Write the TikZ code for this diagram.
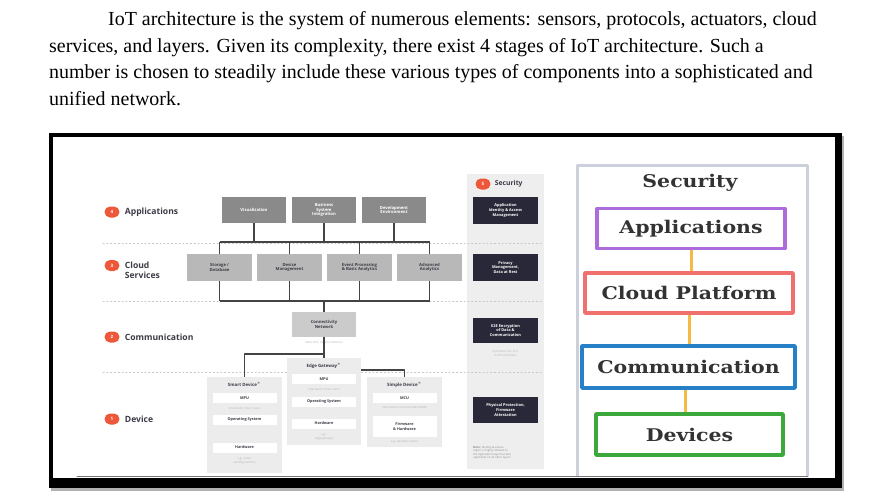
\documentclass[tikz,border=0pt]{standalone}
\usepackage{graphicx}
\usepackage{fontspec}
\setmainfont{Liberation Serif}
\newfontfamily\diagfont{Open Sans}
\newfontfamily\slabfont{DejaVu Serif}
\usetikzlibrary{positioning}

\definecolor{appgray}{RGB}{138,138,138}
\definecolor{cloudgray}{RGB}{184,184,184}
\definecolor{netgray}{RGB}{203,203,203}
\definecolor{devgray}{RGB}{236,236,236}
\definecolor{secgray}{RGB}{238,238,238}
\definecolor{secdark}{RGB}{40,40,56}
\definecolor{numred}{RGB}{238,88,58}
\definecolor{busgray}{RGB}{68,68,68}
\definecolor{labelgray}{RGB}{60,60,70}
\definecolor{appviolet}{RGB}{172,108,220}
\definecolor{cloudsalmon}{RGB}{240,112,110}
\definecolor{commblue}{RGB}{38,128,200}
\definecolor{devgreen}{RGB}{58,168,58}
\definecolor{linkorange}{RGB}{245,185,70}
\definecolor{framegray}{RGB}{204,208,218}

\newcommand\wide[1]{\scalebox{1.17}[1]{#1}}

\begin{document}
\begin{tikzpicture}[x=1pt, y=-1pt, line join=round, line cap=round, font=\diagfont,
	para/.style={font=\fontsize{19.95}{23}\selectfont\rmfamily, inner sep=0, anchor=base west},
	appbox/.style={fill=appgray, text=white, minimum width=64, minimum height=26, inner sep=1pt, align=center, font=\diagfont\bfseries\fontsize{4.2}{4.8}\selectfont},
	cloudbox/.style={fill=cloudgray, text=labelgray, minimum width=65, minimum height=27, inner sep=1pt, align=center, font=\diagfont\bfseries\fontsize{4.2}{4.8}\selectfont},
	devbox/.style={fill=devgray, minimum width=75, inner sep=0},
	whitebox/.style={fill=white, text=labelgray, minimum width=64, minimum height=10, inner sep=0, align=center, font=\diagfont\bfseries\fontsize{3.8}{4.4}\selectfont},
	devtitle/.style={text=labelgray, inner sep=0, font=\diagfont\bfseries\fontsize{4.4}{5}\selectfont},
	tinytext/.style={text=black!30, inner sep=0, align=center, font=\diagfont\fontsize{2.8}{3.4}\selectfont},
	secbox/.style={fill=secdark, text=white, minimum width=65, minimum height=27, inner sep=1pt, align=center, font=\diagfont\bfseries\fontsize{3.9}{4.6}\selectfont},
	numdot/.style={fill=numred, text=white, rounded corners=5.5pt, minimum width=15, minimum height=11, inner sep=0, font=\diagfont\bfseries\fontsize{4.5}{5}\selectfont},
	layer/.style={text=labelgray, inner sep=0, align=left, font=\diagfont\bfseries\fontsize{8.6}{9.4}\selectfont},
	bus/.style={draw=busgray, line width=1.4pt, line cap=butt},
	sep/.style={draw=black!22, line width=0.9pt, dash pattern=on 1.2pt off 2.6pt},
	stage/.style={fill=white, line width=3.6pt, minimum height=40, inner sep=0, font=\slabfont\bfseries\fontsize{17.5}{20}\selectfont, text=black!80},
	link/.style={draw=linkorange, line width=3pt, line cap=butt}]
	\useasboundingbox (0,0) rectangle (878,498);
	\fill[white] (0,0) rectangle (878,498);

	% [Paragraph]
	\node[para] (p1) at (108,25) {IoT architecture is the system of numerous elements: sensors, protocols, actuators, cloud};
	\node[para] (p2) at (49,52) {services, and layers. Given its complexity, there exist 4 stages of IoT architecture. Such a};
	\node[para] (p3) at (49,78.5) {number is chosen to steadily include these various types of components into a sophisticated and};
	\node[para] (p4) at (49,105) {unified network.};

	% [Frame of the picture]
	\fill[black!30] (51,136) rectangle (844,491);
	\fill[black] (49,133) rectangle (842,488);
	\fill[white] (53,137) rectangle (835,478);
	\draw[black!55, line width=0.8pt] (77,476.5) -- (808,476.5);

	% [Security column]
	\node[fill=secgray, minimum width=77, minimum height=295, inner sep=0] (secol) at (505.5,321.5) {};

	% [Layer separators]
	\foreach \y in {243,301,372}
		\draw[sep] (103,\y) -- (543,\y);

	% [Layer labels]
	\node[numdot] (n4) at (112,212) {4};
	\node[layer, right=5pt of n4] (l4) {Applications};
	\node[numdot] (n3) at (112,265.5) {3};
	\node[layer, right=5pt of n3, yshift=-4.6pt] (l3) {Cloud\\Services};
	\node[numdot] (n2) at (112,337) {2};
	\node[layer, right=5pt of n2] (l2) {Communication};
	\node[numdot] (n1) at (112,419) {1};
	\node[layer, right=5pt of n1] (l1) {Device};

	% [Applications]
	\node[appbox] (vis) at (254,210) {Visualization};
	\node[appbox] (bsi) at (324,210) {Business\\System\\Integration};
	\node[appbox] (env) at (394,210) {Development\\Environment};

	% [Cloud services]
	\node[cloudbox] (sto) at (219.5,267.5) {Storage /\\Database};
	\node[cloudbox] (dev) at (289.5,267.5) {Device\\Management};
	\node[cloudbox] (evt) at (359.5,267.5) {Event Processing\\\& Basic Analytics};
	\node[cloudbox] (adv) at (429.5,267.5) {Advanced\\Analytics};

	% [Communication]
	\node[cloudbox, fill=netgray, minimum height=25, minimum width=64] (con) at (324,324.5) {Connectivity\\Network};
	\node[tinytext] (cont) at (324,343) {WAN, WiFi, Cellular, Ethernet};

	% [Devices]
	\node[devbox, minimum height=96] (smart) at (244.5,425) {};
	\node[devtitle] (smartt) at (244.5,384) {Smart Device$^{*}$};
	\node[whitebox] (smpu) at (244.5,398) {MPU};
	\node[tinytext] (smput) at (244.5,408) {Intel Atom / Core / Xeon};
	\node[whitebox] (sos) at (244.5,420) {Operating System};
	\node[whitebox] (shw) at (244.5,447.5) {Hardware};
	\node[tinytext] (shwt) at (244.5,461) {e.g., smart\\vending machine};

	\node[devbox, minimum width=74, minimum height=87] (edge) at (324,401.5) {};
	\node[devtitle] (edget) at (324,366) {Edge Gateway$^{*}$};
	\node[whitebox] (empu) at (324,379) {MPU};
	\node[tinytext] (emput) at (324,389) {Intel Atom / Core / Xeon};
	\node[whitebox] (eos) at (324,402) {Operating System};
	\node[whitebox] (ehw) at (324,423.5) {Hardware};
	\node[tinytext] (ehwt) at (324,437) {e.g.,\\edge gateway};

	\node[devbox, minimum height=70] (simple) at (404.5,412) {};
	\node[devtitle] (simplet) at (404.5,385) {Simple Device$^{*}$};
	\node[whitebox] (smcu) at (404.5,398) {MCU};
	\node[tinytext] (smcut) at (404.5,408) {Intel Quark microcontroller D2000};
	\node[whitebox, minimum height=21] (sfw) at (404.5,426.5) {Firmware\\\& Hardware};
	\node[tinytext] (sfwt) at (404.5,442) {e.g., wearable sensor};

	% [Buses]
	\coordinate (busA) at (0,242);
	\coordinate (busB) at (0,301);
	\coordinate (busC) at (0,354);
	\coordinate (busD) at (0,370);
	\foreach \n in {vis,bsi,env}
		\draw[bus] (\n) -- (\n |- busA);
	\draw[bus] (sto |- busA) -- (adv |- busA);
	\foreach \n in {sto,dev,evt,adv}{
		\draw[bus] (\n |- busA) -- (\n);
		\draw[bus] (\n) -- (\n |- busB);
	}
	\draw[bus] (sto |- busB) -- (adv |- busB);
	\draw[bus] (con |- busB) -- (con);
	\draw[bus] (con) -- (edge);
	\draw[bus] (con |- busC) -| (smart);
	\draw[bus] (edge.east |- busD) -| (simple);

	% [Security]
	\node[numdot] (n5) at (483,184) {5};
	\node[layer, font=\diagfont\bfseries\fontsize{6.8}{7}\selectfont, right=4pt of n5] (l5) {Security};
	\node[secbox] (sid) at (505.5,210.5) {Application\\Identity \& Access\\Management};
	\node[secbox] (spriv) at (505.5,267.5) {Privacy\\Management,\\Data at Rest};
	\node[secbox, minimum height=25] (senc) at (505.5,330.5) {E2E Encryption\\of Data \&\\Communication};
	\node[tinytext] (senct) at (505.5,353.5) {Symmetric SSL, TLS,\\X.509 certificates};
	\node[secbox, minimum height=26] (sphys) at (505.5,410) {Physical Protection,\\Firmware\\Attestation};
	\node[tinytext, text=black!45, align=left, anchor=north west] (snote) at (473,446) {\textbf{Note:} Identity \& access\\mgmt. is highly relevant to\\the Application layer but also\\applicable on all other layers};

	% [Right: stages]
	\draw[framegray, line width=3pt, line cap=butt] (577,476) |- (807,165) -- (807,476);
	\node[inner sep=0, font=\slabfont\bfseries\fontsize{17.5}{20}\selectfont, text=black!80] (stitle) at (690,183) {\wide{Security}};
	\node[stage, draw=appviolet, minimum width=188] (sapp) at (691,228.5) {\wide{Applications}};
	\node[stage, draw=cloudsalmon, minimum width=208] (scloud) at (689,293) {\wide{Cloud Platform}};
	\node[stage, draw=commblue, minimum width=213, minimum height=42] (scomm) at (688.5,367) {\wide{Communication}};
	\node[stage, draw=devgreen, minimum width=187, minimum height=41] (sdev) at (689.5,434.5) {\wide{Devices}};
	\draw[link] (sapp.south) -- (sapp.south |- scloud.north);
	\draw[link] (scloud.south) -- (scloud.south |- scomm.north);
	\draw[link] ([xshift=-3pt]scomm.south) -- ([xshift=-3pt]scomm.south |- sdev.north);
\end{tikzpicture}
\end{document}
